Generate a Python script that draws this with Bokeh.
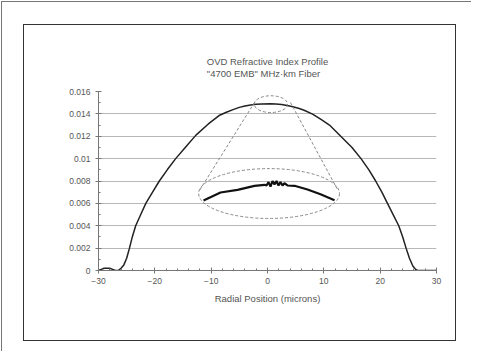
from bokeh.plotting import figure
from bokeh.models import (Range1d, FixedTicker, Title, CustomJSTickFormatter, InlineStyleSheet)
from bokeh.embed import file_html
from bokeh.resources import INLINE

# ---- data ----
title_lines = ["OVD Refractive Index Profile", "\"4700 EMB\" MHz\u00b7km Fiber"]
x_label = "Radial Position (microns)"
x_ticks = [-30, -20, -10, 0, 10, 20, 30]
y_ticks = [0, 0.002, 0.004, 0.006, 0.008, 0.01, 0.012, 0.014, 0.016]

profile_x = [-30, -29.5, -29, -28, -27.5, -27, -26.5, -26, -25.5, -25, -24.5, -24, -23.4,
             -22.5, -21.6, -20.4, -19.2, -17.8, -16.3, -14.6, -12.7, -10.5, -8.6, -7.3, -6,
             -5, -4, -3, -2, -1, 0.5, 1.5, 2.5, 3.5, 4.5, 5.5, 6.5, 8, 9.5, 11, 13.0, 15,
             16.6, 18, 19.2, 20.3, 21.3, 22.3, 23.3, 24.0, 24.6, 25.2, 25.8, 26.3, 26.6, 28, 30]
profile_y = [0.0, 0.0001, 0.0002, 0.0002, 0.0001, 0.0, 0.0, 0.0002, 0.0005, 0.0011, 0.0020,
             0.0030, 0.0040, 0.0050, 0.0060, 0.0070, 0.0080, 0.0090, 0.0100, 0.0110, 0.0121,
             0.0131, 0.01385, 0.01415, 0.0144, 0.01458, 0.0147, 0.0148, 0.01486, 0.01489,
             0.0149, 0.01488, 0.01483, 0.01475, 0.01464, 0.0145, 0.01432, 0.01398, 0.0135,
             0.0130, 0.0120, 0.0110, 0.0100, 0.0090, 0.0080, 0.0070, 0.0060, 0.0050, 0.0040,
             0.0030, 0.0020, 0.0011, 0.0004, 0.0001, 0.0, 0.0, 0.0]

inset_x = [-11.36, -8.34, -5.32, -2.31, -0.53, -0.18, 0.18, 0.53, 0.89, 1.24, 1.6, 1.95,
           2.3, 2.66, 3.0, 3.55, 4.8, 7.1, 9.41, 11.9]
inset_y = [0.00626, 0.00697, 0.00721, 0.00757, 0.00766, 0.0076, 0.0079, 0.0075, 0.0080,
           0.0077, 0.0080, 0.0076, 0.0079, 0.0076, 0.0078, 0.0076, 0.00757, 0.00724,
           0.00682, 0.00628]

# zoom ellipses: (x, y, width, height)
small_ell = (0.6, 0.01487, 5.9, 0.0015)
big_ell = (0.28, 0.00688, 25.0, 0.00446)
# connector lines
conn_x = [[-2.31, -12.07], [4.08, 12.43]]
conn_y = [[0.01502, 0.00715], [0.01502, 0.00724]]

FONT = "Liberation Sans"

p = figure(width=477, height=356, output_backend="svg", toolbar_location=None,
           x_range=Range1d(-30, 30), y_range=Range1d(0, 0.016),
           min_border_left=98, min_border_right=41, min_border_top=91, min_border_bottom=86)
p.outline_line_color = None
p.background_fill_color = "white"
p.border_fill_color = "white"

# grid
p.xgrid.grid_line_color = None
p.ygrid.ticker = FixedTicker(ticks=y_ticks)
p.ygrid.grid_line_color = "#b8b8b8"
p.ygrid.grid_line_width = 1

# axes
p.xaxis.ticker = FixedTicker(ticks=x_ticks, minor_ticks=list(range(-30, 31, 2)))
p.yaxis.ticker = FixedTicker(ticks=y_ticks, minor_ticks=[i * 0.001 for i in range(17)])
p.yaxis.formatter = CustomJSTickFormatter(code="return tick == 0 ? '0' : String(Number(tick.toFixed(3)));")
for ax in (p.xaxis[0], p.yaxis[0]):
    ax.axis_line_color = "#777777"
    ax.axis_line_width = 1
    ax.major_tick_line_color = "#777777"
    ax.minor_tick_line_color = "#777777"
    ax.major_tick_in = 3
    ax.major_tick_out = 3
    ax.minor_tick_in = 2
    ax.minor_tick_out = 0
    ax.major_label_text_font = FONT
    ax.major_label_text_font_size = "8.5px"
    ax.major_label_text_color = "#555555"
p.xaxis.major_label_standoff = 4
p.yaxis.major_label_standoff = 5
p.xaxis.axis_label = x_label
p.xaxis.axis_label_text_font = FONT
p.xaxis.axis_label_text_font_size = "9.5px"
p.xaxis.axis_label_text_font_style = "normal"
p.xaxis.axis_label_text_color = "#555555"
p.xaxis.axis_label_standoff = 6

# main profile
p.line(profile_x, profile_y, line_color="#222222", line_width=1.5)

# zoom callouts
p.ellipse(x=[small_ell[0]], y=[small_ell[1]], width=[small_ell[2]], height=[small_ell[3]],
          fill_color=None, line_color="#888888", line_dash="3 2", line_width=1)
p.ellipse(x=[big_ell[0]], y=[big_ell[1]], width=[big_ell[2]], height=[big_ell[3]],
          fill_color=None, line_color="#888888", line_dash="3 2", line_width=1)
p.multi_line(conn_x, conn_y, line_color="#888888", line_dash="3 2", line_width=1)

# inset magnified curve
p.line(inset_x, inset_y, line_color="#111111", line_width=2.2)

# two-line title
p.add_layout(Title(text="\n".join(title_lines), align="center", text_font=FONT,
                   text_font_size="9.5px", text_font_style="normal", text_color="#555555",
                   text_line_height=1.18, standoff=24), "above")

# decorative frames (page border and chart box), clipped to the plot element
p.stylesheets = [InlineStyleSheet(css="""
:host { position: relative; overflow: hidden; }
:host::before { content: ""; position: absolute; left: 1px; top: 1px; width: 470px; height: 350px;
  border: none; border-left: 1.5px solid #777; border-top: 1.5px solid #777;
  box-sizing: border-box; z-index: 50; pointer-events: none; }
:host::after { content: ""; position: absolute; left: 23px; top: 24px; width: 433px; height: 317px;
  border: 1.5px solid #333; box-sizing: border-box; z-index: 50; pointer-events: none; }
""")]

open("out.html", "w").write(file_html(p, INLINE))
